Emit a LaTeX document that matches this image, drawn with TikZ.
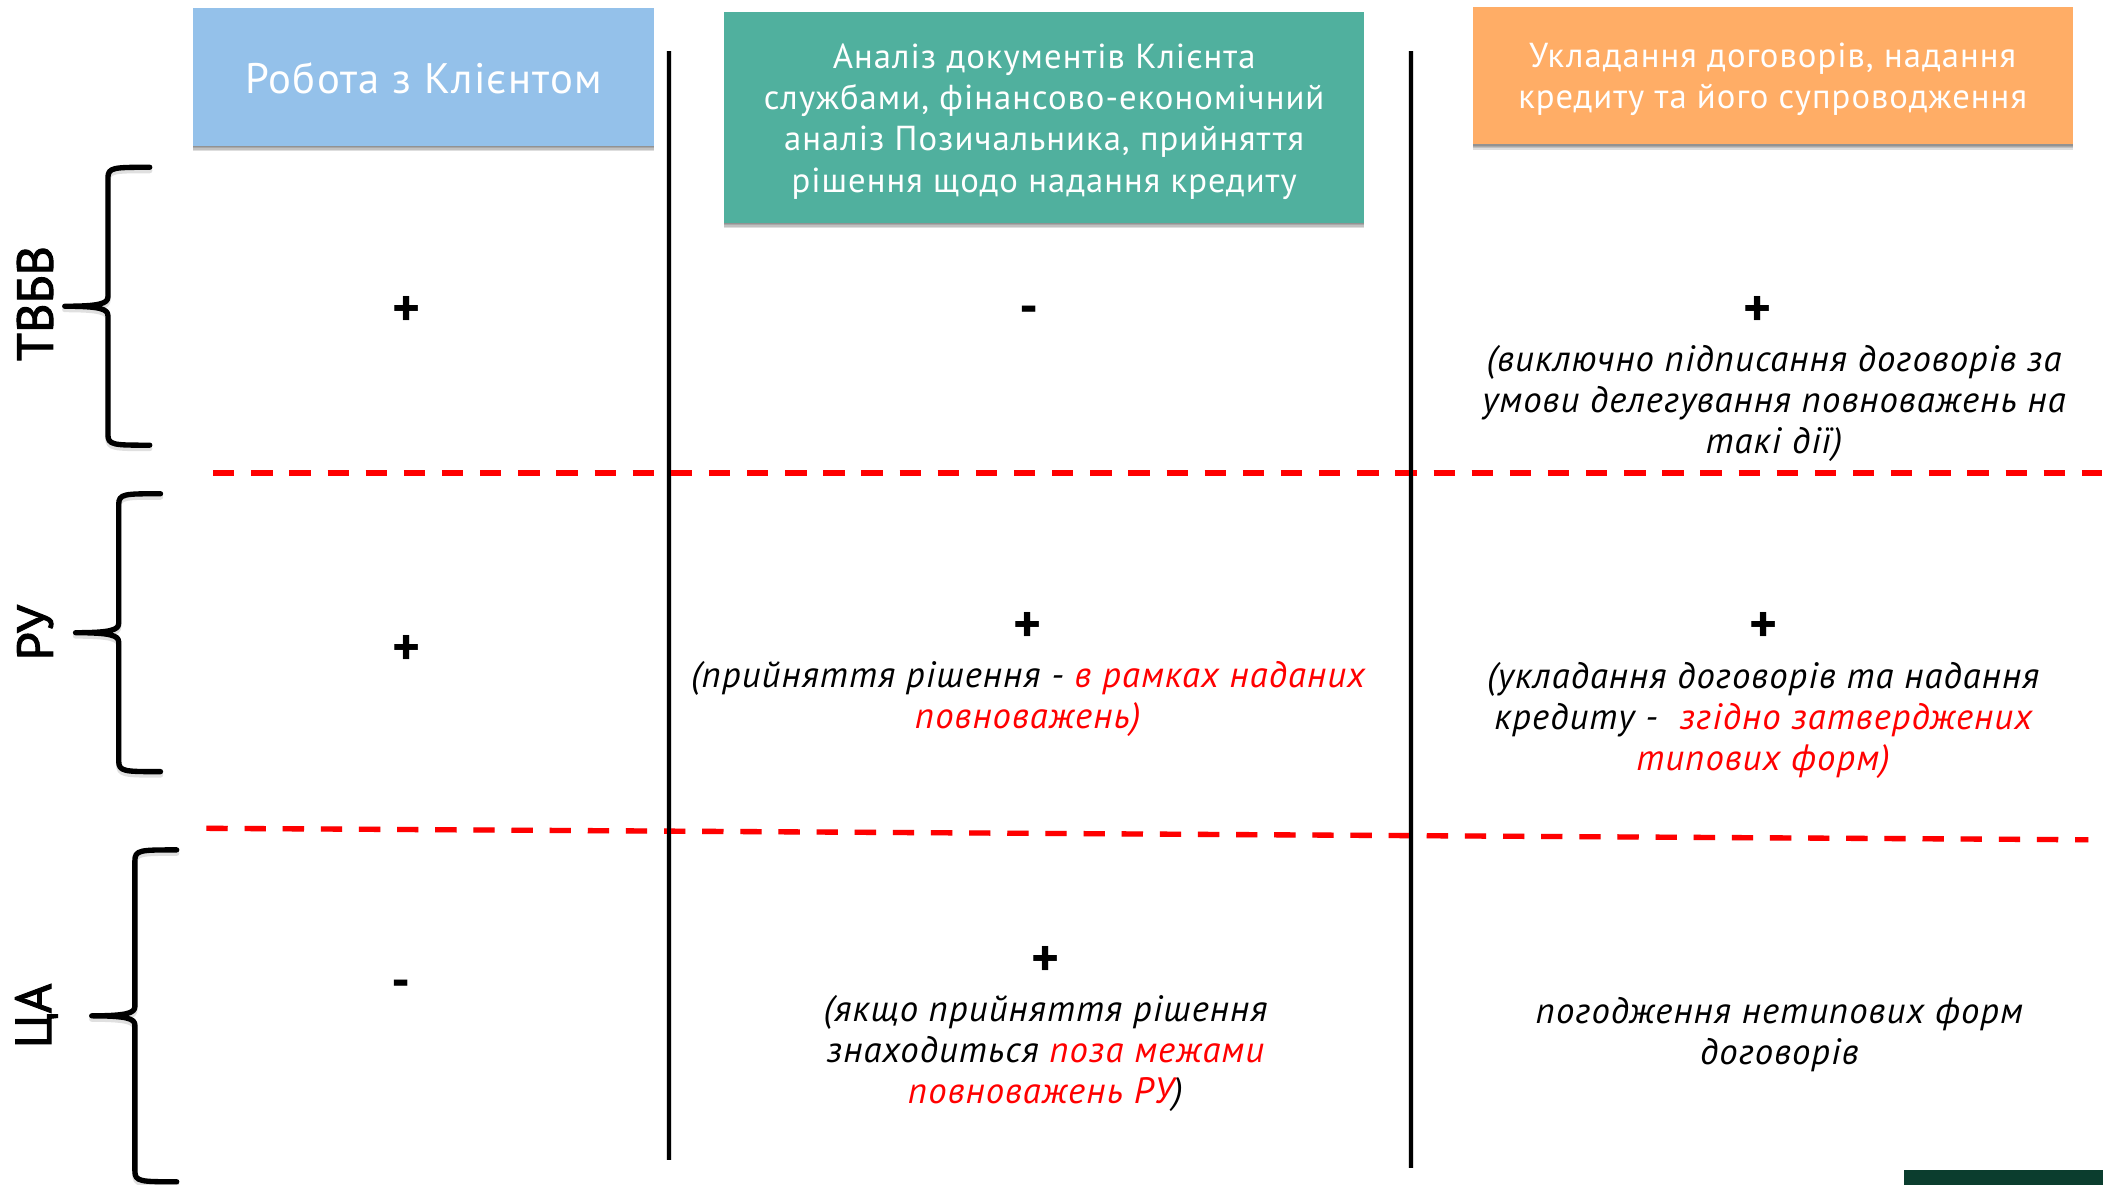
\documentclass[tikz,border=0pt]{standalone}
\usepackage{fontspec}
\setmainfont[LetterSpace=3]{PT Sans}
\newfontfamily\labfont[FakeBold=2]{PT Sans}
\definecolor{hblue}{HTML}{94C1EA}
\definecolor{hteal}{HTML}{50B09E}
\definecolor{horange}{HTML}{FFAD66}
\definecolor{hgreen}{HTML}{0B3D2E}
\definecolor{hred}{HTML}{FF0000}
\tikzset{
  softshade/.style={fill=black,opacity=.13,draw=none},
  headtxt/.style={text=white,align=center,inner sep=0pt,font=\fontsize{26}{31}\selectfont},
  bigtxt/.style={text=white,align=center,inner sep=0pt,font=\fontsize{32}{31}\selectfont},
  body/.style={align=center,inner sep=0pt,font=\fontsize{27.5}{31}\selectfont\itshape},
  sign/.style={inner sep=0pt,font=\fontsize{40}{40}\selectfont\bfseries},
  rowlab/.style={rotate=90,inner sep=0pt,font=\fontsize{38}{38}\selectfont\labfont},
  vline/.style={line width=3.2pt,black},
  vshadow/.style={line width=4pt,black,opacity=.14},
  redline/.style={line width=4pt,hred,dash pattern=on 16pt off 12.6pt},
  redshadow/.style={line width=4pt,black,opacity=.12,dash pattern=on 16pt off 12.6pt},
  brace/.style={line width=4pt,black,line cap=round,line join=round},
  braceshadow/.style={line width=4pt,black,opacity=.12,line cap=round,line join=round},
}
\newcommand{\rd}[1]{\textcolor{hred}{#1}}
\newcommand{\softbox}[5]{%
 \foreach \e in {1,2,3,4} {\path[softshade] (#1,#4) rectangle (#3,#4+\e);}
 \path[fill=#5] (#1,#2) rectangle (#3,#4);}
\newcommand{\bracepath}[6]{%
 \path[#6] (#1,#2) .. controls (#3+4,#2) and (#3,#2) .. (#3,#2+8) -- (#3,#4-7)
   .. controls (#3,#4-2) and (#3-6,#4) .. (#5,#4)
   .. controls (#3-6,#4) and (#3,#4+2) .. (#3,#4+7)
   -- (#3,2*#4-#2-8) .. controls (#3,2*#4-#2) and (#3+4,2*#4-#2) .. (#1,2*#4-#2);}
\begin{document}
\begin{tikzpicture}[x=1.0117pt,y=-1.0117pt]
\useasboundingbox (0,0) rectangle (1567.8,878.4);
% header boxes
\softbox{143}{6}{485}{108}{hblue}
\softbox{537}{9}{1011}{165}{hteal}
\softbox{1092}{5}{1537}{107}{horange}
\node[bigtxt] (h1) at (314,58) {Робота з Клієнтом};
\node[headtxt] (h2) at (774,90) {Аналіз документів Клієнта\\службами, фінансово-економічний\\аналіз Позичальника, прийняття\\рішення щодо надання кредиту};
\node[headtxt] (h3) at (1314,59) {Укладання договорів, надання\\кредиту та його супроводження};
% vertical lines
\coordinate (v1a) at (496,38); \coordinate (v1b) at (496,860);
\coordinate (v2a) at (1046,38); \coordinate (v2b) at (1046,866);
\draw[vshadow,xshift=2pt,yshift=-2pt] (v1a) -- (v1b);
\draw[vshadow,xshift=2pt,yshift=-2pt] (v2a) -- (v2b);
% red lines
\coordinate (r1a) at (158,350.5); \coordinate (r1b) at (1558,350.5);
\coordinate (r2a) at (153,614); \coordinate (r2b) at (1548,622.5);
\draw[redshadow,yshift=-2pt] (r1a) -- (r1b);
\draw[redshadow,yshift=-2pt] (r2a) -- (r2b);
\draw[redline] (r1a) -- (r1b);
\draw[redline] (r2a) -- (r2b);
\draw[vline] (v1a) -- (v1b);
\draw[vline] (v2a) -- (v2b);
% braces
\begin{scope}[yshift=-2.5pt]
\bracepath{111}{124}{80}{227}{48}{braceshadow,draw}
\bracepath{119}{366}{88}{469}{56}{braceshadow,draw}
\bracepath{131}{630}{100}{753}{68}{braceshadow,draw}
\end{scope}
\bracepath{111}{124}{80}{227}{48}{brace,draw}
\bracepath{119}{366}{88}{469}{56}{brace,draw}
\bracepath{131}{630}{100}{753}{68}{brace,draw}
% row labels
\node[rowlab] (l1) at (26,225) {ТВБВ};
\node[rowlab] (l2) at (26,469) {РУ};
\node[rowlab] (l3) at (27,753) {ЦА};
% row 1
\node[sign] (a1) at (301,231) {+};
\node[sign] (a2) at (763,234) {-};
\node[sign] (a3) at (1303,231) {+};
\node[body] (a3t) at (1315,299) {(виключно підписання договорів за\\умови делегування повноважень на\\такі дії)};
% row 2
\node[sign] (b1) at (301,482) {+};
\node[sign] (b2) at (762,465) {+};
\node[body] (b2t) at (762,518) {(прийняття рішення - \rd{в рамках наданих}\\\rd{повноважень)}};
\node[sign] (b3) at (1307,465) {+};
\node[body] (b3t) at (1307,534) {(укладання договорів та надання\\кредиту -~~\rd{згідно затверджених}\\\rd{типових форм)}};
% row 3
\node[sign] (c1) at (297,733) {-};
\node[sign] (c2) at (775,713) {+};
\node[body] (c2t) at (775,781) {(якщо прийняття рішення\\знаходиться \rd{поза межами}\\\rd{повноважень РУ})};
\node[body] (c3t) at (1319,767) {погодження нетипових форм\\договорів};
% corner block
\fill[hgreen] (1411,867) rectangle (1559,878.4);
\end{tikzpicture}
\end{document}
